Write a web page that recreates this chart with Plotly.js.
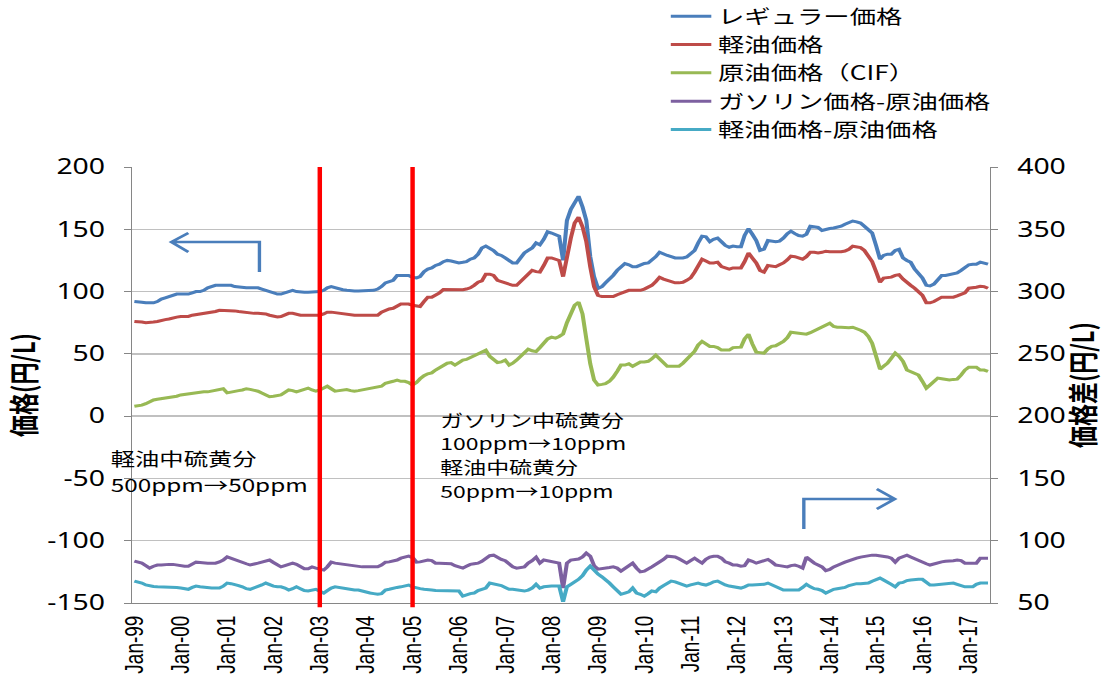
<!DOCTYPE html>
<html>
<head>
<meta charset="utf-8">
<script src="https://cdn.plot.ly/plotly-3.0.1.min.js"></script>
<style>
  html, body { margin: 0; padding: 0; background: #ffffff; overflow: hidden; }
  #wrap { width: 1102px; height: 675px; overflow: hidden; }
  #chart { width: 816px; height: 675px; transform: scaleX(1.3505); transform-origin: 0 0; }
</style>
</head>
<body>
<div id="wrap"><div id="chart"></div></div>
<script>
// ---- Data (monthly, Jan 1999 – Jun 2017) ----
const startYear = 1999;
const monthCount = 222;

// レギュラー価格 (円/L, left axis)
const regular = [
  92, 92, 91.5, 91, 91, 91, 92, 94, 95, 96, 97, 98,
  98, 98, 98, 99, 100, 100, 101, 103, 104, 105, 105, 105,
  105, 105, 104, 103.5, 103, 103, 103, 103, 103, 102, 101, 100,
  98.5, 98, 98, 99, 100, 101, 100, 99.5, 99.5, 99.5, 99.5, 100,
  100, 101, 103, 104, 103, 102, 101.5, 101, 100.5, 100.5, 100.5, 100.5,
  100.5, 100.5, 101, 102, 104, 107, 108, 109, 113, 113, 113, 113,
  111.5, 111, 112, 116, 118, 119, 121, 122, 124, 125, 124.5, 123.5,
  123, 123.5, 124, 126, 127, 130, 135, 136.5, 135, 133, 130, 129,
  127, 125, 123, 123, 127, 131, 133, 135, 139, 137.5, 142, 148,
  147, 146, 144.5, 125, 157, 166, 172, 176.5, 168, 157, 128, 112,
  102.5, 104, 107, 110, 113, 117, 120, 122.5, 121.5, 120, 120, 121.5,
  122.5, 123, 125, 128, 131.6, 130, 129, 128, 127, 127, 127, 127.8,
  130, 133, 139, 144.5, 144, 140, 142, 143, 140, 137, 135.6, 136.5,
  136, 136, 145, 150.6, 146, 141, 133, 134, 141, 140.5, 140, 140.5,
  143, 146.5, 148.5, 146.5, 145, 144.5, 146, 152.5, 152, 151.5, 149, 150,
  150.6, 151, 151.5, 152.5, 154, 155, 156.6, 156, 155, 152.5, 149.5, 147,
  137, 126, 129, 130, 130, 133, 134, 127, 125, 123.5, 118, 114,
  111, 105, 104.5, 106, 110, 113, 113, 113.5, 114.6, 115, 117, 119.5,
  121.5, 122, 122, 123.6, 123, 122
];

// 軽油価格 (円/L, left axis)
const diesel = [
  76, 76, 75.5, 75, 75, 75.5, 76, 77, 77.5, 78, 79, 79.5,
  80, 80, 80, 81, 81.5, 82, 82, 83, 83, 84, 85, 85,
  85, 84.5, 84.5, 84, 83.5, 83, 83, 82.5, 82.5, 82.5, 82, 81,
  80, 79.6, 80, 81, 82.5, 82.5, 81.5, 81, 81, 81, 81, 81,
  81, 82, 83.5, 83.5, 83, 82.5, 82, 82, 81.5, 81, 81, 81,
  81, 81, 81, 81, 83.5, 85, 86, 86.6, 88, 90, 90, 90,
  89, 88.5, 88, 92, 95.5, 95.5, 97, 99, 101.6, 101.6, 101.6, 101.5,
  101, 101.5, 102, 103, 105, 107.5, 108.5, 114, 114, 113, 109, 108,
  107.5, 106, 105, 105, 108, 111.5, 114, 117, 116, 115.6, 121, 127,
  127, 126, 125, 112, 127.6, 143, 155, 159.7, 152, 140, 119.6, 104,
  97, 96, 96, 96, 96, 97.5, 98.7, 100, 101, 101, 101, 101,
  102, 103.5, 105, 108, 111.5, 110, 109, 108, 107, 107, 107.5, 109,
  111, 115.6, 121, 126, 124.5, 123, 123, 123.6, 120, 119, 118, 119,
  119, 119, 124, 131, 127, 123, 117, 115.6, 121, 120.5, 120, 121.5,
  123, 125.5, 128.5, 128, 127, 126, 128, 131.6, 131.5, 131, 131.5, 132.4,
  132, 131.8, 131.6, 132, 132.5, 134, 136.4, 136, 135.3, 133, 129, 124,
  116, 107.5, 110.8, 111, 111.6, 113, 113.5, 110, 107, 105, 102.7, 100,
  97, 91, 91, 92, 94, 95.5, 95.5, 95.5, 95.5, 96.5, 98, 99,
  102.7, 103, 103.5, 104.3, 104, 102.7
];

// 原油価格（CIF） (円/L, left axis)
const crude = [
  8, 8.5, 8.8, 10, 11.5, 13, 13.6, 14, 14.5, 15, 15.5, 16,
  17, 17.5, 18, 18.2, 18.5, 19, 19.5, 19.5, 20, 20.5, 21, 22,
  18.7, 19.5, 20, 20.5, 21, 22, 21.5, 21, 20, 18.5, 17, 15.6,
  16, 16.5, 17, 19, 21, 20.5, 19.5, 20.5, 21.5, 22.5, 21, 20,
  21, 22.5, 24, 22, 20, 20.5, 21, 21.4, 20.5, 20, 20.5, 21,
  21.5, 22, 22.5, 23, 24, 26.4, 27, 28, 29, 28, 28, 27,
  25, 27, 30, 32.5, 34, 34.7, 37, 39, 41, 42.5, 43, 41,
  43, 45, 45.5, 47, 48.5, 50.6, 52, 53, 48, 45.5, 43, 43.5,
  45, 41, 42.5, 45, 48, 51.5, 53.8, 52.5, 51.8, 55, 58.6, 62,
  63.4, 62.6, 64, 66, 75, 83, 89, 91.5, 82, 62, 42, 29,
  25, 25.5, 26, 28, 31.3, 36, 41, 41, 42, 40, 42, 43.4,
  43.5, 44, 46, 49, 46, 43, 40, 40, 40, 40, 42.5, 45.5,
  48, 52, 57, 60, 58, 56, 56, 55, 53, 53, 53, 55,
  55.4, 55.4, 62, 65.8, 58, 51.4, 51, 50.6, 54, 56, 56.5, 58.6,
  60, 63, 67.4, 67, 66.5, 66, 65.8, 67, 68.5, 69.8, 71, 72.5,
  74.6, 72, 71.4, 71.4, 71, 71, 71.4, 70.5, 69, 67.4, 64, 58.6,
  47, 37.7, 40, 42.5, 46.5, 50.6, 48, 44, 37, 35.5, 34, 33,
  28, 22.5, 25, 27.5, 30.5, 30, 29.5, 29, 29.5, 29.7, 33, 37,
  39.3, 39.3, 39.3, 37, 37, 36
];

// ガソリン価格-原油価格 (円/L, right axis)
const gasSpread = [
  83.6, 83, 82, 80, 78, 79.5, 80.5, 80.5, 81, 81, 81, 80.5,
  80, 79.6, 79.6, 81, 82.8, 82.5, 82, 82, 82, 82, 83, 84.5,
  87, 86, 85, 83.6, 82.5, 81.5, 80.5, 81.5, 82, 82.8, 83.5, 84.5,
  82.5, 81, 79, 80, 81, 82, 81, 79.5, 77.5, 77.5, 79, 78,
  77, 76.4, 79, 82.8, 82, 81.5, 81, 80.5, 80, 79.5, 79, 79,
  79, 79, 79, 79, 80.5, 82.8, 83, 83.6, 84.5, 86, 87, 87.6,
  86.5, 82.8, 83, 83.5, 84.5, 84, 82, 82, 82, 82, 81.5, 80,
  79, 78, 79.5, 81, 81.5, 82, 83.5, 86, 88, 88.4, 86.5, 85,
  84, 81.5, 79, 78, 78.5, 79, 82, 84, 86.8, 82, 84.5, 84,
  83, 82.5, 82, 62, 82, 84.5, 85, 85.3, 87, 90, 87.6, 80,
  77.2, 77.5, 78, 78.5, 79, 78, 75.6, 78, 80, 82, 78, 75,
  75.5, 77, 79, 81, 82.8, 85, 87.6, 87.5, 87, 85.5, 84, 82,
  84, 86, 84, 82, 85, 86.8, 87.5, 87.6, 86, 83, 82, 80.5,
  80.5, 79.6, 80, 84.5, 83.5, 82, 83, 84, 85, 83, 80.5, 80,
  79.5, 79, 80, 80.5, 79.5, 78, 86.8, 84, 82, 80.5, 79, 76,
  77, 79, 80.5, 81.5, 82.8, 84, 85.3, 86, 86.8, 87.5, 88, 88.4,
  88.4, 88, 87.6, 87, 86, 82.8, 86, 87, 88.4, 87, 85.5, 84.5,
  83, 81.5, 80.5, 81.5, 82.5, 83, 83.5, 83.5, 84, 84.5, 84, 82,
  82, 82, 82, 86, 86, 86
];

// 軽油価格-原油価格 (円/L, right axis)
const dieselSpread = [
  67.6, 67, 66, 64.5, 63.6, 63.3, 63, 63, 63, 63, 63, 62.5,
  62, 61.5, 61, 62.5, 63.6, 63, 62.5, 62, 62, 62, 62, 63.5,
  66, 65.5, 65, 64, 63, 61.5, 61, 62, 63.6, 64.5, 66, 64.5,
  63.5, 63, 63, 62, 60.4, 61.5, 63, 61.5, 60, 59.6, 60, 61,
  59.5, 58, 60, 62, 63, 62.5, 62, 61, 61, 60.5, 60.4, 59.5,
  59, 58, 57.5, 57, 57.5, 60.4, 61, 62, 62.5, 63, 64, 64.4,
  63, 62, 61.5, 61, 60.4, 60.4, 60, 60, 59.6, 59.6, 59.6, 59.6,
  59.6, 55.5, 56.5, 57.5, 58, 60, 61, 62, 66, 65.5, 65, 64,
  62.5, 61, 61, 60.5, 60, 59.6, 60.4, 62, 65, 62, 63, 63.6,
  63.6, 63.6, 63.6, 51, 63, 65, 67, 69, 72, 76.4, 79.6, 76,
  73.2, 71, 69, 66, 63, 60, 57, 58, 59, 62, 58, 57,
  55.5, 57.5, 59.6, 59, 62, 64, 66, 67.6, 67, 66, 65, 63.6,
  64.5, 65.5, 66, 65, 64.4, 65.5, 67, 67.6, 66, 64.5, 63.6, 63,
  62.5, 62, 63, 64.4, 64.4, 64.4, 64.4, 65, 66, 64.5, 63, 62,
  60.5, 60.4, 60.4, 60.4, 60.4, 62.5, 65, 63, 61.5, 61, 60, 58,
  59.5, 61, 61.5, 62, 62.5, 64, 65, 65.5, 65.5, 66, 66, 67.5,
  69, 70, 68.5, 67, 65, 63, 66, 66.5, 68, 68.5, 69, 69,
  69, 67, 64.4, 64.5, 64.7, 65, 65, 65.5, 66, 65, 64, 63,
  63, 63, 65, 66, 66, 66
];

const seriesNames = ['レギュラー価格', '軽油価格', '原油価格（CIF）', 'ガソリン価格-原油価格', '軽油価格-原油価格'];
const seriesColors = ['#4a7ebb', '#be4b48', '#98b954', '#7d60a0', '#46aac5'];
const leftTickVals = [-150, -100, -50, 0, 50, 100, 150, 200];
const leftTickText = ['-150', '-100', '-50', '0', '50', '100', '150', '200'];
const rightTickVals = [50, 100, 150, 200, 250, 300, 350, 400];
const rightTickText = ['50', '100', '150', '200', '250', '300', '350', '400'];
const regulationDates = ['2003-01-01', '2005-01-01'];
const noteLeft = ['軽油中硫黄分', '500ppm→50ppm'];
const noteRight = ['ガソリン中硫黄分', '100ppm→10ppm', '軽油中硫黄分', '50ppm→10ppm'];

// month categories
const months = [];
for (let i = 0; i < monthCount; i++) {
  const y = startYear + Math.floor(i / 12);
  const m = (i % 12) + 1;
  months.push(y + '-' + String(m).padStart(2, '0') + '-01');
}

const seriesData = [regular, diesel, crude, gasSpread, dieselSpread];
const axes = ['y', 'y', 'y', 'y2', 'y2'];
const traces = seriesData.map((vals, k) => ({
  type: 'scatter',
  mode: 'lines',
  name: seriesNames[k],
  x: months,
  y: vals,
  yaxis: axes[k],
  line: { color: seriesColors[k], width: 3 },
  hoverinfo: 'skip'
}));

const cjk = '"Noto Sans CJK JP", "Noto Sans", sans-serif';
const arrowColor = '#4a7ebb';

const shapes = regulationDates.map(d => ({
  type: 'line', xref: 'x', yref: 'paper',
  x0: d, x1: d, y0: -0.01, y1: 1,
  line: { color: '#ff0000', width: 3.3 }, layer: 'above'
}));
shapes.push({
  type: 'path', xref: 'paper', yref: 'paper',
  path: 'M 0.1482 0.7592 L 0.1482 0.828 L 0.0455 0.828 M 0.0653 0.8486 L 0.0455 0.828 L 0.0653 0.805',
  line: { color: arrowColor, width: 2.5 }
});
shapes.push({
  type: 'path', xref: 'paper', yref: 'paper',
  path: 'M 0.783 0.1697 L 0.783 0.2385 L 0.8891 0.2385 M 0.8681 0.2615 L 0.8891 0.2385 L 0.8681 0.2156',
  line: { color: arrowColor, width: 2.5 }
});

const annotations = [];
const leftY = [0.3326, 0.273];
noteLeft.forEach((t, i) => annotations.push({
  xref: 'paper', yref: 'paper', x: -0.0268, y: leftY[i],
  xanchor: 'left', yanchor: 'middle', showarrow: false, text: t,
  font: { family: cjk, size: 18, color: '#000000' }, borderpad: 0
}));
const rightY = [0.422, 0.367, 0.312, 0.257];
noteRight.forEach((t, i) => annotations.push({
  xref: 'paper', yref: 'paper', x: 0.3582, y: rightY[i],
  xanchor: 'left', yanchor: 'middle', showarrow: false, text: t,
  font: { family: cjk, size: 17, color: '#000000' }, borderpad: 0
}));

const tickFont = { family: '"Noto Sans", sans-serif', size: 21, color: '#000000' };

const layout = {
  width: 816,
  height: 675,
  margin: { l: 98, r: 83, t: 167, b: 72, pad: 0, autoexpand: false },
  paper_bgcolor: '#ffffff',
  plot_bgcolor: '#ffffff',
  showlegend: true,
  legend: {
    x: 0.62, y: 1.39, xanchor: 'left', yanchor: 'top',
    font: { family: cjk, size: 19.5, color: '#000000' },
    bgcolor: 'rgba(0,0,0,0)', itemwidth: 30, tracegroupgap: 0
  },
  xaxis: {
    type: 'date',
    range: ['1998-12-16', '2017-06-16'],
    tick0: '1999-01-01', dtick: 'M12', tickformat: '%b-%y',
    tickangle: -90,
    tickfont: { family: '"Liberation Sans", Arial, sans-serif', size: 19, color: '#000000' },
    showline: true, linecolor: '#868686', linewidth: 1,
    showgrid: false, zeroline: false, ticks: '', ticklabelstandoff: 4
  },
  yaxis: {
    range: [-150, 200], tickmode: 'array', tickvals: leftTickVals, ticktext: leftTickText,
    tickfont: tickFont,
    showgrid: true, gridcolor: '#c0c0c0', gridwidth: 1.5,
    showline: true, linecolor: '#868686', linewidth: 1,
    ticks: 'outside', ticklen: 5, tickcolor: '#868686',
    zeroline: false, ticklabelstandoff: 10,
    title: { text: '価格(円/L)', font: { family: cjk, size: 22, color: '#000000', weight: 'bold' }, standoff: 10 }
  },
  yaxis2: {
    overlaying: 'y', side: 'right',
    range: [50, 400], tickmode: 'array', tickvals: rightTickVals, ticktext: rightTickText,
    tickfont: tickFont,
    showgrid: false,
    showline: true, linecolor: '#868686', linewidth: 1,
    ticks: 'outside', ticklen: 5, tickcolor: '#868686',
    zeroline: false, ticklabelstandoff: 10,
    title: { text: '価格差(円/L)', font: { family: cjk, size: 22, color: '#000000', weight: 'bold' }, standoff: 10 }
  },
  shapes: shapes,
  annotations: annotations
};

Plotly.newPlot('chart', traces, layout, { displayModeBar: false, staticPlot: true });
</script>
</body>
</html>
